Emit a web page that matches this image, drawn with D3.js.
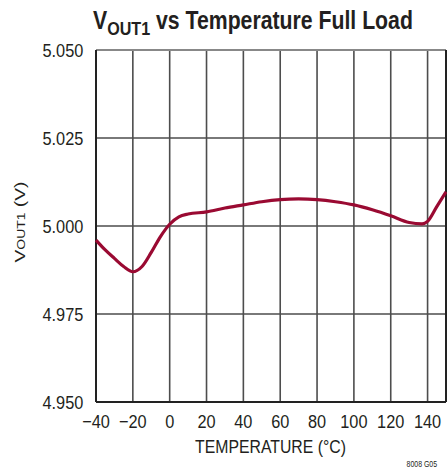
<!DOCTYPE html>
<html>
<head>
<meta charset="utf-8">
<script src="https://cdn.jsdelivr.net/npm/d3@7"></script>
<style>
  body { margin: 0; background: #fff; }
  svg text { font-family: "Liberation Sans", Arial, sans-serif; fill: #231f20; }
</style>
</head>
<body>
<svg id="chart" width="447" height="471"></svg>
<script>
// temperature (°C) and output voltage (V)
const temps = [-40, -35, -30, -25, -20, -15, -10, -5, 0, 5, 10, 20, 30, 40, 50, 60, 70, 80, 90, 100, 110, 120, 130, 137, 140, 145, 150];
const vout  = [4.996, 4.9932, 4.9908, 4.9885, 4.987, 4.9885, 4.9925, 4.997, 5.0005, 5.0026, 5.0034, 5.004, 5.0051, 5.006, 5.0069, 5.0075, 5.0077, 5.0075, 5.0069, 5.006, 5.0046, 5.0029, 5.001, 5.0006, 5.0013, 5.0055, 5.0097];
const xTicks = [-40, -20, 0, 20, 40, 60, 80, 100, 120, 140];
const yTicks = [4.950, 4.975, 5.000, 5.025, 5.050];

const width = 447;
const height = 471;
const margin = { top: 50, right: 1, bottom: 69, left: 96 };
const chartWidth = width - margin.left - margin.right;
const chartHeight = height - margin.top - margin.bottom;

const svg = d3.select('#chart');
const g = svg.append('g')
    .attr('transform', `translate(${margin.left}, ${margin.top})`);

const xScale = d3.scaleLinear().domain([-40, 150]).range([0, chartWidth]);
const yScale = d3.scaleLinear().domain([4.950, 5.050]).range([chartHeight, 0]);

// squeeze a text horizontally so it looks like a condensed face
function condense(sel, k, x, y, rot) {
    sel.attr('x', 0).attr('y', 0)
        .attr('transform', `translate(${x}, ${y})` + (rot ? ` rotate(${rot})` : '') + ` scale(${k}, 1)`);
}

// grid lines
g.selectAll('.vgrid')
    .data(xTicks.slice(1))
    .enter()
    .append('line')
    .attr('x1', d => xScale(d)).attr('x2', d => xScale(d))
    .attr('y1', 0).attr('y2', chartHeight)
    .attr('stroke', '#4d4d4d')
    .attr('stroke-width', 1.6);

g.selectAll('.hgrid')
    .data(yTicks.slice(1, -1))
    .enter()
    .append('line')
    .attr('x1', 0).attr('x2', chartWidth)
    .attr('y1', d => yScale(d)).attr('y2', d => yScale(d))
    .attr('stroke', '#4d4d4d')
    .attr('stroke-width', 1.6);

// frame
g.append('line').attr('x1', 0).attr('x2', chartWidth).attr('y1', 0).attr('y2', 0)
    .attr('stroke', '#888').attr('stroke-width', 2);
g.append('line').attr('x1', chartWidth).attr('x2', chartWidth).attr('y1', 0).attr('y2', chartHeight)
    .attr('stroke', '#222').attr('stroke-width', 2);
g.append('line').attr('x1', 0).attr('x2', chartWidth).attr('y1', chartHeight).attr('y2', chartHeight)
    .attr('stroke', '#222').attr('stroke-width', 2);
g.append('line').attr('x1', 0).attr('x2', 0).attr('y1', 0).attr('y2', chartHeight)
    .attr('stroke', '#222').attr('stroke-width', 2);

// the curve
const line = d3.line()
    .x((d, i) => xScale(temps[i]))
    .y(d => yScale(d))
    .curve(d3.curveMonotoneX);

g.append('path')
    .datum(vout)
    .attr('fill', 'none')
    .attr('stroke', '#9a0a32')
    .attr('stroke-width', 3.2)
    .attr('d', line);

// tick labels
const kTick = 0.86;
g.selectAll('.xlab')
    .data(xTicks)
    .enter()
    .append('text')
    .style('font-size', '19px')
    .style('text-anchor', 'middle')
    .text(d => d < 0 ? '\u2212' + Math.abs(d) : d)
    .each(function (d) { condense(d3.select(this), kTick, xScale(d), chartHeight + 25.5); });

g.selectAll('.ylab')
    .data(yTicks)
    .enter()
    .append('text')
    .style('font-size', '19px')
    .style('text-anchor', 'end')
    .text(d3.format('.3f'))
    .each(function (d) { condense(d3.select(this), kTick, -12.7, yScale(d) + 7); });

// title
const title = svg.append('text')
    .style('font-size', '25px')
    .style('font-weight', 'bold');
title.append('tspan').text('V');
title.append('tspan').attr('dy', 6).style('font-size', '19px').text('OUT1');
title.append('tspan').attr('dy', -6).text(' vs Temperature Full Load');
condense(title, 320 / title.node().getComputedTextLength(), 93, 29);

// axis titles
const xt = svg.append('text')
    .style('text-anchor', 'middle')
    .style('font-size', '18px')
    .text('TEMPERATURE (°C)');
condense(xt, 151 / xt.node().getComputedTextLength(), 270.5, 453);

const yt = svg.append('text')
    .style('text-anchor', 'middle')
    .style('font-size', '14.5px');
yt.append('tspan').text('V');
yt.append('tspan').style('font-size', '10.5px').text('OUT1');
yt.append('tspan').text(' (V)');
condense(yt, 81 / yt.node().getComputedTextLength(), 25, 222, -90);

const note = svg.append('text')
    .style('text-anchor', 'end')
    .style('font-size', '9px')
    .text('8008 G05');
condense(note, 30.5 / note.node().getComputedTextLength(), 437, 467);
</script>
</body>
</html>
